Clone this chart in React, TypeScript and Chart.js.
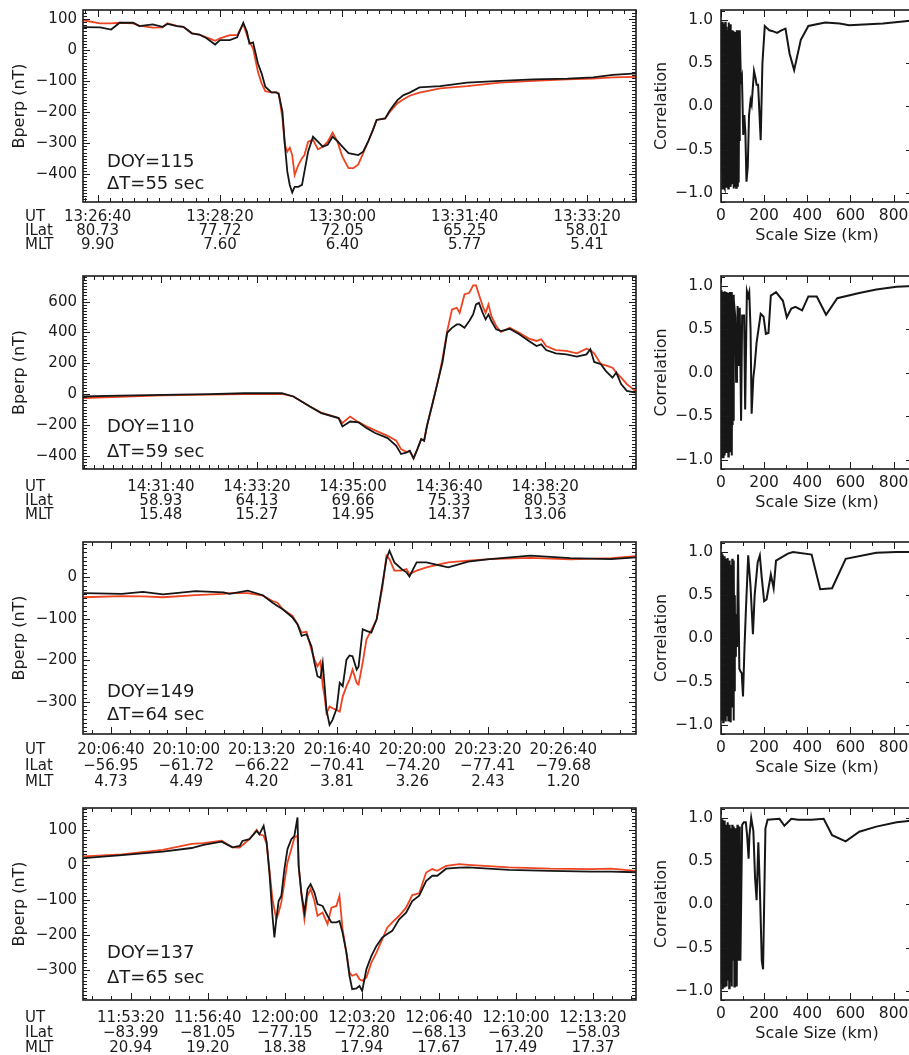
import React, { useEffect, useRef } from 'react';
import { Chart, registerables } from 'chart.js';

Chart.register(...registerables);

const FONT = "'DejaVu Sans', 'Liberation Sans', sans-serif";
const INK = '#1c1c1c';
const BLACK = '#161616';
const RED = '#ee4321';
const MINUS = '\u2212';

// ---------------- DOY 115 ----------------
const utDoy115 = ['13:26:40', '13:28:20', '13:30:00', '13:31:40', '13:33:20'];
const ilatDoy115 = ['80.73', '77.72', '72.05', '65.25', '58.01'];
const mltDoy115 = ['9.90', '7.60', '6.40', '5.77', '5.41'];
const yTicksDoy115 = [-400, -300, -200, -100, 0, 100];
const yRangeDoy115 = [-489, 129];
const xRangeDoy115 = [-12, 440];
// seconds after first UT tick
const tDoy115 = [-12, 2, 11, 18, 29, 34, 45, 53, 57, 65, 70, 77, 83, 89, 96, 100, 108, 114, 119, 122, 124, 127, 131, 134, 137, 142, 146, 148, 151, 153, 155, 157, 159, 161, 164, 167, 169, 172, 176, 180, 184, 188, 192, 196, 200, 205, 209, 213, 217, 221, 225, 228, 235, 239, 245, 250, 255, 263, 280, 302, 329, 356, 384, 405, 421, 440];
const blackDoy115 = [74, 73, 66, 88, 88, 77, 83, 75, 84, 77, 75, 54, 50, 38, 18, 32, 32, 41, 88, 59, 21, 25, -43, -75, -118, -136, -136, -142, -198, -305, -391, -434, -458, -440, -440, -434, -391, -327, -279, -295, -311, -305, -279, -293, -311, -332, -335, -338, -327, -295, -257, -225, -220, -193, -161, -145, -137, -120, -116, -105, -99, -94, -92, -88, -80, -75];
const redDoy115 = [96, 86, 86, 88, 86, 79, 72, 73, 86, 77, 75, 54, 50, 41, 30, 38, 48, 48, 84, 48, 27, 5, -70, -107, -132, -136, -136, -139, -220, -305, -327, -314, -338, -402, -370, -348, -338, -295, -289, -319, -311, -295, -266, -295, -343, -380, -380, -368, -332, -295, -257, -225, -220, -198, -171, -158, -147, -137, -123, -116, -105, -99, -94, -92, -88, -86];

// ---------------- DOY 110 ----------------
const utDoy110 = ['14:31:40', '14:33:20', '14:35:00', '14:36:40', '14:38:20'];
const ilatDoy110 = ['58.93', '64.13', '69.66', '75.33', '80.53'];
const mltDoy110 = ['15.48', '15.27', '14.95', '14.37', '13.06'];
const yTicksDoy110 = [-400, -200, 0, 200, 400, 600];
const yRangeDoy110 = [-485, 766];
const xRangeDoy110 = [-81, 494.5];
const tDoy110 = [-81, -43, 2, 51, 87, 126, 138, 155, 167, 185, 189, 197, 206, 214, 223, 236, 245, 250, 256, 259, 263, 267, 271, 274, 277, 283, 288, 293, 298, 303, 308, 311, 316, 321, 325, 328, 331, 335, 338, 341, 344, 349, 354, 363, 373, 383, 391, 396, 401, 411, 422, 433, 443, 447, 451, 458, 463, 470, 474, 479, 485, 494];
const blackDoy110 = [-15, -10, -5, 0, 6, 6, -15, -80, -123, -155, -209, -177, -183, -220, -252, -285, -334, -388, -377, -367, -416, -356, -291, -302, -205, -54, 75, 204, 398, 430, 452, 452, 430, 474, 517, 582, 592, 527, 485, 517, 474, 420, 409, 424, 388, 345, 312, 323, 286, 265, 258, 243, 258, 291, 209, 194, 151, 107, 140, 65, 21, 10];
const redDoy110 = [-26, -18, -8, -3, 0, 2, -15, -78, -120, -155, -187, -145, -183, -209, -235, -270, -302, -356, -377, -367, -416, -356, -291, -302, -205, -54, 75, 226, 409, 549, 560, 527, 646, 657, 705, 705, 646, 571, 527, 582, 506, 442, 403, 430, 398, 360, 345, 356, 312, 286, 280, 265, 295, 285, 265, 194, 187, 172, 140, 107, 65, 21];

// ---------------- DOY 149 ----------------
const utDoy149 = ['20:06:40', '20:10:00', '20:13:20', '20:16:40', '20:20:00', '20:23:20', '20:26:40'];
const ilatDoy149 = [MINUS + '56.95', MINUS + '61.72', MINUS + '66.22', MINUS + '70.41', MINUS + '74.20', MINUS + '77.41', MINUS + '79.68'];
const mltDoy149 = ['4.73', '4.49', '4.20', '3.81', '3.26', '2.43', '1.20'];
const yTicksDoy149 = [-300, -200, -100, 0];
const yRangeDoy149 = [-377, 85];
const xRangeDoy149 = [-74, 1393];
const tDoy149 = [-72, 29, 85, 138, 225, 299, 315, 363, 403, 429, 442, 456, 482, 495, 506, 519, 532, 540, 548, 556, 562, 567, 572, 580, 588, 599, 607, 615, 625, 633, 641, 652, 657, 668, 678, 691, 705, 721, 731, 739, 752, 771, 784, 792, 811, 837, 874, 895, 948, 1004, 1113, 1219, 1327, 1393];
const blackDoy149 = [-38, -40, -35, -41, -33, -36, -40, -32, -43, -61, -69, -77, -97, -113, -141, -137, -166, -206, -238, -242, -206, -262, -319, -355, -343, -315, -254, -262, -198, -188, -190, -222, -215, -125, -129, -133, -101, -12, 44, 64, 36, 20, 12, 2, 36, 36, 28, 24, 38, 44, 52, 46, 44, 48];
const redDoy149 = [-48, -45, -46, -48, -43, -40, -38, -38, -44, -57, -61, -77, -93, -113, -133, -131, -174, -198, -214, -202, -262, -287, -327, -311, -315, -319, -323, -287, -262, -246, -222, -254, -258, -205, -149, -127, -101, -20, 52, 44, 16, 16, 20, 8, 16, 24, 32, 36, 40, 44, 47, 43, 46, 51];

// ---------------- DOY 137 ----------------
const utDoy137 = ['11:53:20', '11:56:40', '12:00:00', '12:03:20', '12:06:40', '12:10:00', '12:13:20'];
const ilatDoy137 = [MINUS + '83.99', MINUS + '81.05', MINUS + '77.15', MINUS + '72.80', MINUS + '68.13', MINUS + '63.20', MINUS + '58.03'];
const mltDoy137 = ['20.94', '19.20', '18.38', '17.94', '17.67', '17.49', '17.37'];
const yTicksDoy137 = [-300, -200, -100, 0, 100];
const yRangeDoy137 = [-385, 162];
const xRangeDoy137 = [-124, 1312];
const tDoy137 = [-122, -23, 83, 158, 189, 236, 264, 283, 290, 308, 327, 334, 345, 353, 360, 368, 373, 378, 384, 391, 399, 407, 417, 425, 433, 436, 443, 451, 459, 467, 477, 485, 498, 511, 521, 534, 542, 550, 560, 568, 575, 586, 594, 601, 612, 625, 638, 653, 666, 679, 697, 715, 731, 749, 767, 783, 796, 819, 853, 876, 982, 1089, 1195, 1247, 1312];
const blackDoy137 = [19, 28, 38, 48, 57, 66, 50, 54, 68, 73, 97, 87, 111, 64, -22, -145, -207, -155, -103, -88, -12, 45, 73, 83, 135, -3, -79, -136, -69, -55, -79, -112, -117, -145, -164, -164, -160, -193, -250, -316, -354, -352, -345, -359, -297, -259, -231, -207, -197, -188, -155, -136, -103, -88, -46, -31, -31, -11, -8, -7, -14, -17, -19, -19, -21];
const redDoy137 = [24, 30, 43, 60, 62, 69, 50, 49, 56, 73, 100, 87, 83, 59, -12, -98, -126, -155, -136, -107, -50, 7, 45, 78, 83, -3, -83, -155, -88, -69, -103, -145, -136, -169, -122, -117, -88, -183, -250, -307, -316, -311, -326, -330, -321, -278, -250, -212, -179, -164, -145, -122, -86, -81, -22, -12, -17, -3, 2, 0, -7, -11, -12, -11, -17];

const doyLabels = ['DOY=115', 'DOY=110', 'DOY=149', 'DOY=137'];
const deltaTLabels = ['\u0394T=55 sec', '\u0394T=59 sec', '\u0394T=64 sec', '\u0394T=65 sec'];

// ---------------- Correlation vs scale size ----------------
const corrXTicks = [0, 200, 400, 600, 800];
const corrYTicks = [-1, -0.5, 0, 0.5, 1];
const corrXRange = [0, 890];
const corrYRange = [-1.105, 1.115];

const kmRow1 = [0, 2, 4, 6, 8, 10, 12, 14, 16, 18, 20, 22, 24, 26, 28, 30, 32, 34, 36, 38, 40, 42, 44, 46, 48, 50, 52, 54, 56, 58, 60, 62, 64, 66, 68, 70, 72, 74, 76, 78, 80, 82, 84, 86, 88, 92, 97, 103, 108, 113, 118, 124, 130, 137, 142, 153, 160, 165, 172, 184, 192, 203, 215, 224, 240, 260, 280, 299, 318, 339, 370, 405, 483, 550, 594, 751, 877, 890];
const corrRow1 = [0.55, -0.75, 0.97, -0.95, 0.98, -0.88, 0.96, -0.93, 0.85, -0.95, 0.98, -0.7, 0.92, -0.94, 0.6, -0.9, 0.88, -0.95, 0.97, -0.85, 0.9, -0.6, 0.95, -0.93, 0.75, -0.9, 0.88, -0.8, 0.4, -0.95, 0.87, -0.92, 0.7, -0.5, 0.86, -0.94, 0.88, -0.3, 0.6, -0.93, 0.88, -0.88, 0.2, -0.4, 0.88, 0.3, 0.35, -0.33, -0.1, -0.3, -0.87, -0.7, -0.1, 0.07, 0.02, 0.41, 0.33, 0.25, 0.25, -0.39, 0.5, 0.93, 0.9, 0.88, 0.87, 0.85, 0.88, 0.9, 0.61, 0.42, 0.77, 0.93, 0.97, 0.96, 0.94, 0.96, 0.99, 0.99];

const kmRow2 = [0, 2, 4, 6, 8, 10, 12, 14, 16, 18, 20, 22, 24, 26, 28, 30, 32, 34, 36, 38, 40, 42, 44, 46, 48, 50, 52, 54, 56, 58, 60, 66, 70, 74, 77, 83, 87, 93, 98, 107, 112, 120, 126, 131, 137, 142, 150, 156, 165, 184, 197, 208, 220, 231, 255, 287, 305, 326, 345, 376, 405, 444, 487, 539, 641, 720, 814, 890];
const corrRow2 = [0.5, -0.98, 0.95, -0.9, 0.93, -0.97, 0.9, -0.6, 0.94, -0.95, 0.7, -0.88, 0.93, -0.92, 0.85, -0.5, 0.92, -0.96, 0.6, -0.85, 0.93, -0.9, 0.8, -0.7, 0.93, -0.95, 0.5, -0.6, 0.9, -0.55, 0.85, 0.65, -0.1, 0.3, 0.77, 0.08, 0.75, -0.55, 0.66, 0.66, -0.42, 0.94, 0.88, 0.93, 0.5, -0.47, -0.05, 0.08, 0.35, 0.68, 0.65, 0.45, 0.46, 0.89, 0.93, 0.83, 0.64, 0.74, 0.76, 0.72, 0.88, 0.88, 0.67, 0.86, 0.92, 0.96, 0.99, 1.0];

const kmRow3 = [0, 2, 4, 6, 8, 10, 12, 14, 16, 18, 20, 22, 24, 26, 28, 30, 32, 34, 36, 38, 40, 42, 44, 46, 48, 50, 52, 54, 56, 58, 60, 62, 64, 66, 69, 74, 79, 85, 90, 96, 102, 109, 115, 126, 137, 148, 156, 170, 180, 189, 200, 211, 225, 231, 244, 255, 310, 334, 420, 460, 515, 578, 720, 814, 890];
const corrRow3 = [0.9, -0.95, 1.0, -0.8, 0.97, -0.97, 0.85, -0.93, 0.95, -0.6, 0.8, -0.96, 0.92, -0.9, 0.7, -0.85, 0.93, -0.95, 0.82, -0.5, 0.9, -0.92, 0.6, -0.97, 0.85, -0.8, 0.92, -0.3, 0.82, -0.95, 0.9, -0.6, 0.5, -0.2, 0.28, -0.1, 0.97, -0.35, -0.38, -0.4, -0.67, -0.1, 0.3, 0.96, 0.6, 0.05, 0.5, 0.88, 0.96, 0.7, 0.43, 0.45, 0.65, 0.74, 0.58, 0.9, 0.98, 1.0, 0.97, 0.57, 0.58, 0.92, 0.99, 1.0, 1.0];

const kmRow4 = [0, 2, 4, 6, 8, 10, 12, 14, 16, 18, 20, 22, 24, 26, 28, 30, 32, 34, 36, 38, 40, 42, 44, 46, 48, 50, 52, 54, 56, 58, 60, 62, 64, 66, 68, 70, 72, 74, 76, 78, 80, 82, 84, 86, 88, 90, 98, 106, 115, 121, 128, 132, 140, 150, 158, 165, 173, 180, 189, 195, 200, 206, 216, 271, 294, 326, 357, 420, 476, 515, 578, 641, 720, 814, 890];
const corrRow4 = [0.95, -0.92, 1.0, -0.97, 0.98, -0.95, 0.9, -0.85, 0.97, -0.96, 0.92, -0.4, 0.78, -0.95, 0.9, -0.88, 0.95, -0.5, 0.85, -0.97, 0.92, -0.6, 0.88, -0.9, 0.7, -0.95, 0.92, -0.65, 0.8, -0.2, 0.9, -0.95, 0.85, -0.7, 0.88, -0.6, 0.8, -0.95, 0.92, -0.4, 0.88, -0.65, 0.9, -0.3, 0.85, -0.65, 0.92, 0.95, 0.95, 0.8, 0.53, 0.8, 1.0, 0.85, 0.3, 0.05, 0.72, 0.2, -0.65, -0.75, 0.0, 0.88, 0.98, 0.99, 0.91, 0.99, 0.98, 0.98, 0.99, 0.8, 0.73, 0.84, 0.9, 0.95, 0.97];

// ---------------- layout (page pixels) ----------------
const ROWS = [
  { top: 10, h: 192, labPad: 7.8, labLh: 14.3, note1: 152, note2: 174 },
  { top: 276, h: 193, labPad: 11, labLh: 14, note1: 151, note2: 176 },
  { top: 542, h: 192, labPad: 8, labLh: 16, note1: 150, note2: 173 },
  { top: 808, h: 192, labPad: 10.5, labLh: 15, note1: 145, note2: 170 },
];
const LEFT = { canvasLeft: 0, canvasW: 650, boxLeft: 83, boxRight: 636 };
const RIGHT = { canvasLeft: 640, canvasW: 320, boxLeft: 721, boxRight: 913 };
const AXIS_H = 55;
const TICK_SIZE = 15;

const series = [
  { t: tDoy115, black: blackDoy115, red: redDoy115, ut: utDoy115, ilat: ilatDoy115, mlt: mltDoy115, yTicks: yTicksDoy115, yRange: yRangeDoy115, xRange: xRangeDoy115, xMinor: 10, yMinor: 10 },
  { t: tDoy110, black: blackDoy110, red: redDoy110, ut: utDoy110, ilat: ilatDoy110, mlt: mltDoy110, yTicks: yTicksDoy110, yRange: yRangeDoy110, xRange: xRangeDoy110, xMinor: 10, yMinor: 20 },
  { t: tDoy149, black: blackDoy149, red: redDoy149, ut: utDoy149, ilat: ilatDoy149, mlt: mltDoy149, yTicks: yTicksDoy149, yRange: yRangeDoy149, xRange: xRangeDoy149, xMinor: 50, yMinor: 10 },
  { t: tDoy137, black: blackDoy137, red: redDoy137, ut: utDoy137, ilat: ilatDoy137, mlt: mltDoy137, yTicks: yTicksDoy137, yRange: yRangeDoy137, xRange: xRangeDoy137, xMinor: 50, yMinor: 10 },
];
const corrSeries = [
  { km: kmRow1, c: corrRow1 },
  { km: kmRow2, c: corrRow2 },
  { km: kmRow3, c: corrRow3 },
  { km: kmRow4, c: corrRow4 },
];

function utSeconds(s: string) {
  const [h, m, sec] = s.split(':').map(Number);
  return h * 3600 + m * 60 + sec;
}
const signed = (v: number, d: number) => (v < 0 ? MINUS : '') + Math.abs(v).toFixed(d);

const idlPlugin = {
  id: 'idl',
  afterDraw(chart: any, _args: any, o: any) {
    const { ctx, chartArea: a } = chart;
    const xs = chart.scales.x;
    const ys = chart.scales.y;
    ctx.save();
    ctx.strokeStyle = INK;
    ctx.lineWidth = 1;
    const seg = (x1: number, y1: number, x2: number, y2: number) => {
      ctx.beginPath();
      ctx.moveTo(x1, y1);
      ctx.lineTo(x2, y2);
      ctx.stroke();
    };
    const each = (min: number, max: number, step: number, major: number, cb: (v: number, len: number) => void) => {
      for (let k = Math.ceil(min / step - 1e-9); k * step <= max + 1e-9; k++) {
        const v = k * step;
        const r = v / major;
        cb(v, Math.abs(r - Math.round(r)) < 1e-6 ? o.majorLen : o.minorLen);
      }
    };
    each(xs.min, xs.max, o.xMinor, o.xMajor, (v, len) => {
      const p = Math.round(xs.getPixelForValue(v)) + 0.5;
      seg(p, a.bottom, p, a.bottom - len);
      seg(p, a.top, p, a.top + len);
    });
    each(ys.min, ys.max, o.yMinor, o.yMajor, (v, len) => {
      const p = Math.round(ys.getPixelForValue(v)) + 0.5;
      seg(a.left, p, a.left + len, p);
      seg(a.right, p, a.right - len, p);
    });
    ctx.lineWidth = 1.6;
    ctx.strokeRect(a.left, a.top, a.right - a.left, a.bottom - a.top);

    ctx.fillStyle = INK;
    ctx.textBaseline = 'middle';
    if (o.yTitle) {
      ctx.save();
      ctx.translate(a.left - o.yTitleDx, (a.top + a.bottom) / 2);
      ctx.rotate(-Math.PI / 2);
      ctx.textAlign = 'center';
      ctx.font = `${o.titleSize}px ${FONT}`;
      ctx.fillText(o.yTitle, 0, 0);
      ctx.restore();
    }
    if (o.xTitle) {
      ctx.textAlign = 'center';
      ctx.font = `${o.titleSize}px ${FONT}`;
      ctx.fillText(o.xTitle, (a.left + a.right) / 2, a.bottom + o.xTitleDy);
    }
    if (o.rowLabels) {
      ctx.textAlign = 'left';
      ctx.font = `${o.rowSize}px ${FONT}`;
      o.rowLabels.forEach((s: string, i: number) => {
        ctx.fillText(s, o.rowX, a.bottom + o.rowPad + o.rowLh * (i + 0.5));
      });
    }
    if (o.notes) {
      ctx.textAlign = 'left';
      ctx.font = `${o.noteSize}px ${FONT}`;
      o.notes.forEach((n: any) => ctx.fillText(n.text, a.left + n.dx, a.top + n.dy));
    }
    ctx.restore();
  },
};

const noGrid = { display: false, drawTicks: false, drawOnChartArea: false };

function leftConfig(i: number) {
  const s = series[i];
  const row = ROWS[i];
  const t0 = utSeconds(s.ut[0]);
  const tickVals = s.ut.map((u) => utSeconds(u) - t0);
  const xMajor = tickVals[1] - tickVals[0];
  const yMajor = s.yTicks[1] - s.yTicks[0];
  return {
    type: 'line',
    data: {
      datasets: [
        { data: s.t.map((t, k) => ({ x: t, y: s.black[k] })), borderColor: BLACK, borderWidth: 1.8, pointRadius: 0, tension: 0 },
        { data: s.t.map((t, k) => ({ x: t, y: s.red[k] })), borderColor: RED, borderWidth: 1.8, pointRadius: 0, tension: 0 },
      ],
    },
    options: {
      animation: false,
      responsive: false,
      events: [],
      layout: { padding: { left: 0, top: 10, right: LEFT.canvasW - LEFT.boxRight, bottom: 0 } },
      plugins: {
        legend: { display: false },
        tooltip: { enabled: false },
        idl: {
          xMinor: s.xMinor, xMajor, yMinor: s.yMinor, yMajor, majorLen: 7, minorLen: 4,
          yTitle: 'Bperp (nT)', yTitleDx: 63, titleSize: 16,
          rowLabels: ['UT', 'ILat', 'MLT'], rowX: 25, rowPad: row.labPad, rowLh: row.labLh, rowSize: TICK_SIZE,
          noteSize: 18,
          notes: [
            { text: doyLabels[i], dx: 24, dy: row.note1 },
            { text: deltaTLabels[i], dx: 24, dy: row.note2 },
          ],
        },
      },
      scales: {
        x: {
          type: 'linear', min: s.xRange[0], max: s.xRange[1], bounds: 'data',
          grid: noGrid, border: { display: false },
          afterBuildTicks: (sc: any) => { sc.ticks = tickVals.map((v) => ({ value: v })); },
          afterFit: (sc: any) => { sc.height = AXIS_H; sc.paddingLeft = 0; sc.paddingRight = 0; },
          ticks: {
            autoSkip: false, maxRotation: 0, minRotation: 0, padding: row.labPad, color: INK,
            font: { family: FONT, size: TICK_SIZE, lineHeight: `${row.labLh}px` },
            callback: (_v: any, k: number) => [s.ut[k], s.ilat[k], s.mlt[k]],
          },
        },
        y: {
          type: 'linear', min: s.yRange[0], max: s.yRange[1], bounds: 'data',
          grid: noGrid, border: { display: false },
          afterBuildTicks: (sc: any) => { sc.ticks = s.yTicks.map((v) => ({ value: v })); },
          afterFit: (sc: any) => { sc.width = LEFT.boxLeft - LEFT.canvasLeft; sc.paddingTop = 0; sc.paddingBottom = 0; },
          ticks: {
            padding: 6, color: INK, font: { family: FONT, size: TICK_SIZE },
            callback: (v: number) => signed(v, 0),
          },
        },
      },
    },
    plugins: [idlPlugin],
  };
}

function rightConfig(i: number) {
  const s = corrSeries[i];
  return {
    type: 'line',
    data: {
      datasets: [
        { data: s.km.map((k, j) => ({ x: k, y: s.c[j] })), borderColor: BLACK, borderWidth: 2, pointRadius: 0, tension: 0 },
      ],
    },
    options: {
      animation: false,
      responsive: false,
      events: [],
      layout: { padding: { left: 0, top: 10, right: RIGHT.canvasW - (RIGHT.boxRight - RIGHT.canvasLeft), bottom: 0 } },
      plugins: {
        legend: { display: false },
        tooltip: { enabled: false },
        idl: {
          xMinor: 100, xMajor: 200, yMinor: 0.1, yMajor: 0.5, majorLen: 7, minorLen: 4,
          yTitle: 'Correlation', yTitleDx: 59, titleSize: 16,
          xTitle: 'Scale Size (km)', xTitleDy: 34,
        },
      },
      scales: {
        x: {
          type: 'linear', min: corrXRange[0], max: corrXRange[1], bounds: 'data',
          grid: noGrid, border: { display: false },
          afterBuildTicks: (sc: any) => { sc.ticks = corrXTicks.map((v) => ({ value: v })); },
          afterFit: (sc: any) => { sc.height = AXIS_H; sc.paddingLeft = 0; sc.paddingRight = 0; },
          ticks: {
            autoSkip: false, maxRotation: 0, minRotation: 0, padding: 6, color: INK,
            font: { family: FONT, size: 15.5, lineHeight: '15px' },
            callback: (v: number) => String(v),
          },
        },
        y: {
          type: 'linear', min: corrYRange[0], max: corrYRange[1], bounds: 'data',
          grid: noGrid, border: { display: false },
          afterBuildTicks: (sc: any) => { sc.ticks = corrYTicks.map((v) => ({ value: v })); },
          afterFit: (sc: any) => { sc.width = RIGHT.boxLeft - RIGHT.canvasLeft; sc.paddingTop = 0; sc.paddingBottom = 0; },
          ticks: {
            padding: 8, color: INK, font: { family: FONT, size: 15.5 },
            callback: (v: number) => signed(v, 1),
          },
        },
      },
    },
    plugins: [idlPlugin],
  };
}

function Panel({ kind, idx }: { kind: 'left' | 'right'; idx: number }) {
  const ref = useRef<HTMLCanvasElement>(null);
  const row = ROWS[idx];
  const geo = kind === 'left' ? LEFT : RIGHT;
  const width = geo.canvasW;
  const height = row.h + 10 + AXIS_H;
  const top = row.top - 10;
  useEffect(() => {
    const cfg: any = kind === 'left' ? leftConfig(idx) : rightConfig(idx);
    const chart = new Chart(ref.current as HTMLCanvasElement, cfg);
    return () => chart.destroy();
  }, [kind, idx]);
  return (
    <canvas
      ref={ref}
      width={width}
      height={height}
      style={{ position: 'absolute', left: geo.canvasLeft, top, width, height, display: 'block' }}
    />
  );
}

export default function App() {
  return (
    <div style={{ position: 'absolute', left: 0, top: 0, width: 909, height: 1055, overflow: 'hidden', background: '#ffffff' }}>
      {ROWS.map((_, i) => <Panel key={'l' + i} kind="left" idx={i} />)}
      {ROWS.map((_, i) => <Panel key={'r' + i} kind="right" idx={i} />)}
    </div>
  );
}
